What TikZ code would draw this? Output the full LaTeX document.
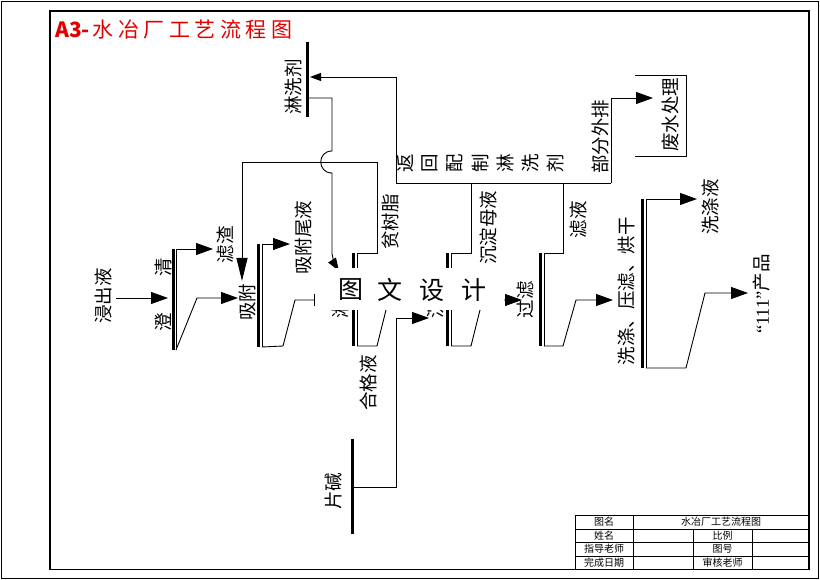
\documentclass[tikz,border=0pt]{standalone}
\usepackage{fontspec}
\setmainfont{Noto Sans CJK SC}
\newfontfamily\serifnum{Liberation Serif}
\usetikzlibrary{arrows.meta}
\definecolor{titlered}{RGB}{225,0,0}
\tikzset{
  lbl/.style={rotate=90, inner sep=0pt, font=\fontsize{18.5}{18.5}\selectfont},
  thin line/.style={line width=0.9pt},
  thickbar/.style={line width=3pt},
  flow/.style={thin line, -{Triangle[length=17pt,width=12pt]}},
  smallflow/.style={thin line, -{Triangle[length=11pt,width=8pt]}},
  cell/.style={inner sep=0pt, font=\fontsize{10}{10}\selectfont},
}
\newcommand{\dbar}[3]{% x, ytop, ybottom
  \draw[thickbar] (#1,#2) -- (#1,#3);
  \draw[thin line] (#1+3.5,#2) -- (#1+3.5,#3);}
\begin{document}
\begin{tikzpicture}[x=1pt,y=-1pt]
\useasboundingbox (0,0) rectangle (820,580);
% frames
\draw[line width=1.3pt] (1.5,1.5) rectangle (818.5,578.5);
\draw[line width=1.1pt] (50,11) rectangle (809,569.5);
% title
\node[anchor=west, inner sep=0pt, text=titlered, font=\fontsize{21}{21}\selectfont] (title) at (55,30)
  {{\bfseries A3-}\hspace{3pt}水\hspace{4.5pt}冶\hspace{4.5pt}厂\hspace{4.5pt}工\hspace{4.5pt}艺\hspace{4.5pt}流\hspace{4.5pt}程\hspace{4.5pt}图};

% ---------- bars ----------
\coordinate (cqT) at (176,249); \coordinate (cqB) at (176,350);
\dbar{173}{249}{350}
\coordinate (xfT) at (262,244); \coordinate (xfB) at (262,347);
\dbar{258.5}{244}{347}
\coordinate (sjT) at (357,253); \coordinate (sjB) at (357,346);
\dbar{353.5}{253}{346}
\coordinate (cdT) at (451,253); \coordinate (cdB) at (451,346);
\dbar{447.5}{253}{346}
\coordinate (glT) at (544,253); \coordinate (glB) at (544,346);
\dbar{540.5}{253}{346}
\coordinate (xdT) at (646,199); \coordinate (xdB) at (646,368);
\dbar{642.5}{199}{368}
\coordinate (lxjT) at (307,42); \coordinate (lxjB) at (307,117);
\draw[thickbar] (lxjT) -- (lxjB);
\coordinate (pjT) at (352,439); \coordinate (pjB) at (352,534);
\draw[thickbar] (pjT) -- (pjB);

% ---------- labels ----------
\node[lbl] (jcy) at (103,296) {浸出液};
\node[lbl] (qing) at (163,267) {清};
\node[lbl] (cheng) at (163,322) {澄};
\node[lbl] (lz) at (226,245) {滤渣};
\node[lbl] (xf) at (247,302) {吸附};
\node[lbl] (xfwy) at (303,238) {吸附尾液};
\node[lbl] (psz) at (390,222) {贫树脂};
\node[lbl] (lx) at (340,300) {淋洗};
\node[lbl] (cd) at (435,300) {沉淀};
\node[lbl] (hgy) at (368,383) {合格液};
\node[lbl] (pj) at (333,491) {片碱};
\node[lbl] (lxj) at (293,87) {淋洗剂};
\node[lbl] (cdmy) at (488,228) {沉淀母液};
\node[lbl] (ly) at (578,220) {滤液};
\node[lbl] (gl) at (526,300) {过滤};
\node[lbl] (xdyl) at (627,291) {洗涤、压滤、烘干};
\node[lbl] (xdy) at (710,207) {洗涤液};
\node[lbl] (cp) at (762,294) {{\serifnum “111”}产品};
\node[lbl] (bfwp) at (600,137) {部分外排};
\node[lbl] (fscl) at (670,115) {废水处理};
\foreach \c [count=\i from 0] in {返,回,配,制,淋,洗,剂}{
  \node[lbl] (fh\i) at (405+25*\i,163) {\c};
}

% ---------- connectors ----------
\coordinate (jcyR) at (116,298);
\draw[flow] (jcyR) -- (168,298);
\draw[flow] (cqT) -- (213,249);
\draw[flow] (cqB) -- (197,298) -- (238,298);
\draw[flow] (xfT) -- (290,244);
\draw[thin line, -{Bar[width=12pt]}] (xfB) -- (283,346) -- (295,300) -- (315,300);
% lean resin loop
\draw[thin line, -{Triangle[length=23pt,width=11pt]}] (sjT) -- (377,253) -- (377,162) -- (242,162) -- (242,281);
% elution agent line with hop
\draw[thin line, -{Triangle[length=13pt,width=9pt]}] (lxjB |- 0,98) -- (332,98) -- (332,151)
  .. controls (317,151) and (317,173) .. (332,173) -- (332,254) to[bend right=10] (339,271);
% recycle loop
\draw[thin line] (cdT) -- (471,253) -- (471,183);
\draw[thin line] (glT) -- (563,253) -- (563,183);
\draw[smallflow] (611,183) -- (396,183) -- (396,77) -- (310,77);
\draw[flow] (611,183) -- (611,98) -- (653,98);
\draw[thin line] (635,75) -- (686,75) -- (686,156) -- (635,156);
% hidden under watermark
\draw[thin line] (sjB) -- (377,346) -- (386,310) -- (392,300) -- (440,300);
\draw[flow] (cdB) -- (471,346) -- (480,310) -- (486,300) -- (522,300);
% caustic
\draw[flow] (352,487) -- (396,487) -- (396,318) -- (429,318);
% filtration -> washing
\draw[flow] (glB) -- (563,346) -- (576,300) -- (613,300);
\draw[flow] (xdT) -- (697,199);
\draw[flow] (xdB) -- (686,368) -- (705,293) -- (748,293);

% watermark
\node[fill=white, minimum width=187pt, minimum height=42pt, inner sep=0pt] (wmbox) at (410,289) {};
\foreach \c/\x in {图/351,文/390,设/432,计/474}{
  \node[inner sep=0pt, font=\fontsize{25}{25}\selectfont] at (\x,290) {\c};
}

% ---------- title block ----------
\draw[thin line] (575,515) -- (809,515);
\draw[thin line] (575,515) -- (575,569.5);
\foreach \y in {529,542,556}{ \draw[thin line] (575,\y) -- (809,\y); }
\draw[thin line] (633,515) -- (633,569.5);
\draw[thin line] (693,529) -- (693,569.5);
\draw[thin line] (752,529) -- (752,569.5);
\node[cell] (t11) at (604,522) {图名};
\node[cell] (t12) at (721,522) {水冶厂工艺流程图};
\node[cell] (t21) at (604,535.5) {姓名};
\node[cell] (t23) at (722.5,535.5) {比例};
\node[cell] (t31) at (604,549) {指导老师};
\node[cell] (t33) at (722.5,549) {图号};
\node[cell] (t41) at (604,563) {完成日期};
\node[cell] (t43) at (722.5,563) {审核老师};
\end{tikzpicture}
\end{document}
